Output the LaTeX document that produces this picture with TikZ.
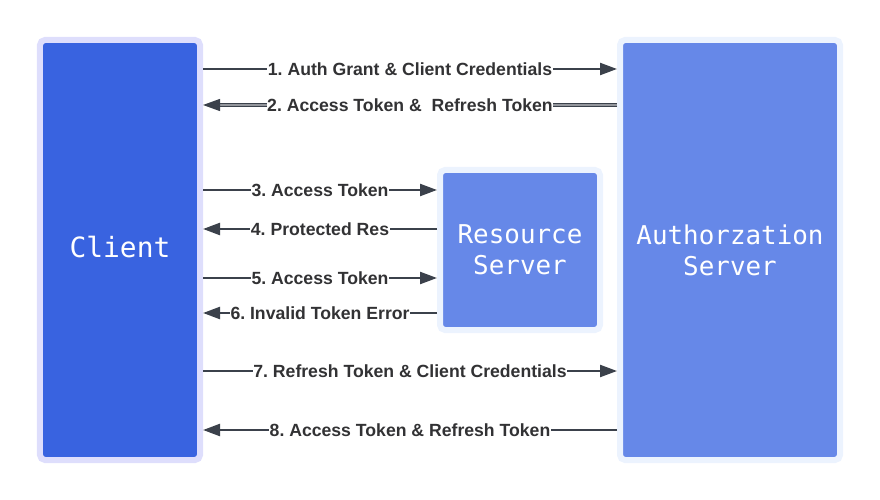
\documentclass[tikz,border=0pt]{standalone}
\usepackage{fontspec}
\setmainfont{Liberation Sans}
\newfontfamily\boxfont{DejaVu Sans Mono}
\usetikzlibrary{arrows.meta, positioning, calc}

\definecolor{clientblue}{RGB}{57, 99, 224}
\definecolor{serverblue}{RGB}{102, 136, 232}
\definecolor{clienthalo}{RGB}{222, 222, 252}
\definecolor{serverhalo}{RGB}{236, 243, 254}
\definecolor{linegray}{RGB}{59, 65, 75}
\definecolor{textgray}{RGB}{50, 50, 52}

\tikzset{
  actor/.style={fill=#1, line width=6bp, rounded corners=5bp, text=white,
    align=center, inner sep=0pt},
  flow/.style={draw=linegray, line width=2.2bp, -{Triangle[length=17bp,width=12bp]}},
  twinflow/.style={flow, line width=1.3bp, double=linegray!55, double distance=1.1bp},
  msg/.style={fill=white, text=textgray, inner xsep=0.5bp, inner ysep=1bp,
    font=\fontsize{17.7}{20}\selectfont\bfseries\frenchspacing}
}

\begin{document}
\begin{tikzpicture}[x=1bp, y=-1bp]
  \useasboundingbox (0,0) rectangle (880,500);

  % The three parties
  \node[actor=clientblue, draw=clienthalo, minimum width=160bp, minimum height=420bp,
    text depth=7bp, font=\boxfont\fontsize{28}{32}\selectfont] (client) at (120,250) {Client};
  \node[actor=serverblue, draw=serverhalo, minimum width=220bp, minimum height=420bp,
    font=\boxfont\fontsize{26}{31}\selectfont] (auth) at (730,250) {Authorzation\\Server};
  \node[actor=serverblue, draw=serverhalo, minimum width=160bp, minimum height=160bp,
    font=\boxfont\fontsize{26}{31}\selectfont] (res) at (520,250) {Resource\\Server};

  % Message rows
  \coordinate (r1) at (0,69);
  \coordinate (r2) at (0,105);
  \coordinate (r3) at (0,190);
  \coordinate (r4) at (0,229);
  \coordinate (r5) at (0,278);
  \coordinate (r6) at (0,313);
  \coordinate (r7) at (0,371);
  \coordinate (r8) at (0,430);

  % Messages
  \draw[flow] (client.east |- r1) -- node[msg] {1. Auth Grant \& Client Credentials} (auth.west |- r1);
  \draw[twinflow] (auth.west |- r2) -- node[msg] {2. Access Token \&\ \ Refresh Token} (client.east |- r2);
  \draw[flow] (client.east |- r3) -- node[msg] {3. Access Token} (res.west |- r3);
  \draw[flow] (res.west |- r4) -- node[msg] {4. Protected Res} (client.east |- r4);
  \draw[flow] (client.east |- r5) -- node[msg] {5. Access Token} (res.west |- r5);
  \draw[flow] (res.west |- r6) -- node[msg] {6. Invalid Token Error} (client.east |- r6);
  \draw[flow] (client.east |- r7) -- node[msg] {7. Refresh Token \& Client Credentials} (auth.west |- r7);
  \draw[flow] (auth.west |- r8) -- node[msg] {8. Access Token \& Refresh Token} (client.east |- r8);
\end{tikzpicture}
\end{document}
